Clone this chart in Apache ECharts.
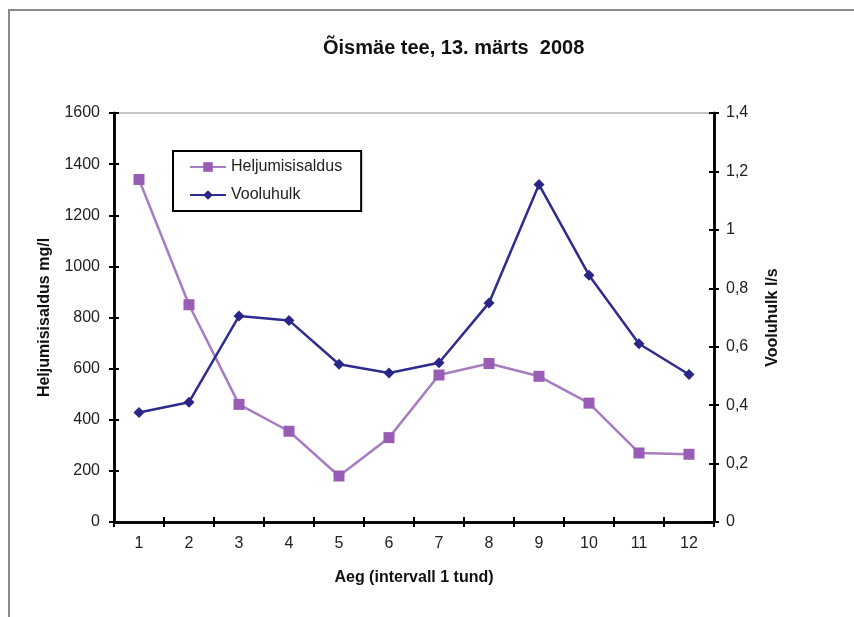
<!DOCTYPE html>
<html>
<head>
<meta charset="utf-8">
<script src="https://cdn.jsdelivr.net/npm/echarts@6/dist/echarts.min.js"></script>
<style>html,body{margin:0;padding:0;background:#fff;}#c{width:854px;height:617px;}</style>
</head>
<body>
<div id="c"></div>
<script>
const categories = ['1','2','3','4','5','6','7','8','9','10','11','12'];
const heljumisisaldus = [1340, 850, 460, 355, 180, 330, 575, 620, 570, 465, 270, 265];
const vooluhulk = [0.375, 0.41, 0.705, 0.69, 0.54, 0.51, 0.545, 0.75, 1.155, 0.845, 0.61, 0.505];
const leftTicks = [0, 200, 400, 600, 800, 1000, 1200, 1400, 1600];
const rightTicks = [0, 0.2, 0.4, 0.6, 0.8, 1, 1.2, 1.4];

const FONT = '"Liberation Sans", Arial, sans-serif';
const chart = echarts.init(document.getElementById('c'));
const tickStyle = {color:'#000', width:2};
const lbl = {color:'#222', fontSize:16, fontFamily:FONT};
const blackLine = {show:true, onZero:false, lineStyle:{color:'#000', width:2.5}};

chart.setOption({
  animation:false,
  backgroundColor:'#fff',
  graphic:[{type:'rect', shape:{x:9,y:10,width:870,height:640}, style:{fill:'none', stroke:'#8a8a8a', lineWidth:2}, silent:true}],
  title:{text:'Õismäe tee, 13. märts  2008', left:318, top:33,
    textStyle:{fontFamily:FONT, fontWeight:'bold', fontSize:20, color:'#111'}},
  legend:{orient:'vertical', left:173, top:151, padding:[8,19,8,16], itemGap:12,
    itemWidth:36, itemHeight:12, borderColor:'#000', borderWidth:2,
    textStyle:{fontFamily:FONT, fontSize:16, color:'#222'},
    data:['Heljumisisaldus','Vooluhulk']},
  grid:{left:114, right:140, top:113, bottom:95, show:true, borderColor:'#8a8a8a', borderWidth:1},
  xAxis:[
    {type:'category', data:categories, boundaryGap:true, position:'bottom',
     axisLine:blackLine,
     axisTick:{show:true, inside:false, length:5, lineStyle:tickStyle},
     axisLabel:Object.assign({margin:14}, lbl),
     name:'Aeg (intervall 1 tund)', nameLocation:'middle', nameGap:48,
     nameTextStyle:{fontFamily:FONT, fontWeight:'bold', fontSize:16, color:'#111'}},
    {type:'category', data:categories, position:'bottom', boundaryGap:true,
     axisLine:blackLine, axisTick:{show:true, inside:true, length:5, lineStyle:tickStyle},
     axisLabel:{show:false}}
  ],
  yAxis:[
    {type:'value', min:0, max:1600, interval:200, position:'left',
     axisLine:blackLine,
     axisTick:{show:true, length:5, lineStyle:tickStyle},
     splitLine:{show:false},
     axisLabel:Object.assign({margin:14, formatter:v => String(v)}, lbl),
     name:'Heljumisisaldus mg/l', nameLocation:'middle', nameGap:61, nameRotate:90,
     nameTextStyle:{fontFamily:FONT, fontWeight:'bold', fontSize:16, color:'#111'}},
    {type:'value', min:0, max:1.4, interval:0.2, position:'right',
     axisLine:blackLine,
     axisTick:{show:true, length:5, lineStyle:tickStyle},
     splitLine:{show:false},
     axisLabel:Object.assign({margin:12, formatter:v => String(Math.round(v*10)/10).replace('.', ',')}, lbl),
     name:'Vooluhulk l/s', nameLocation:'middle', nameGap:51, nameRotate:90,
     nameTextStyle:{fontFamily:FONT, fontWeight:'bold', fontSize:16, color:'#111'}},
    {type:'value', min:0, max:1600, interval:200, position:'left',
     axisLine:blackLine, axisTick:{show:true, inside:true, length:5, lineStyle:tickStyle},
     splitLine:{show:false}, axisLabel:{show:false}},
    {type:'value', min:0, max:1.4, interval:0.2, position:'right',
     axisLine:blackLine, axisTick:{show:true, inside:true, length:5, lineStyle:tickStyle},
     splitLine:{show:false}, axisLabel:{show:false}}
  ],
  series:[
    {name:'Heljumisisaldus', type:'line', yAxisIndex:0, data:heljumisisaldus,
     symbol:'rect', symbolSize:11,
     lineStyle:{color:'#a77dc2', width:2.5},
     itemStyle:{color:'#9a5db6', borderWidth:0}},
    {name:'Vooluhulk', type:'line', yAxisIndex:1, data:vooluhulk,
     symbol:'diamond', symbolSize:11,
     lineStyle:{color:'#2e2c8e', width:2.5},
     itemStyle:{color:'#2a2688', borderWidth:0}}
  ]
});
</script>
</body>
</html>
